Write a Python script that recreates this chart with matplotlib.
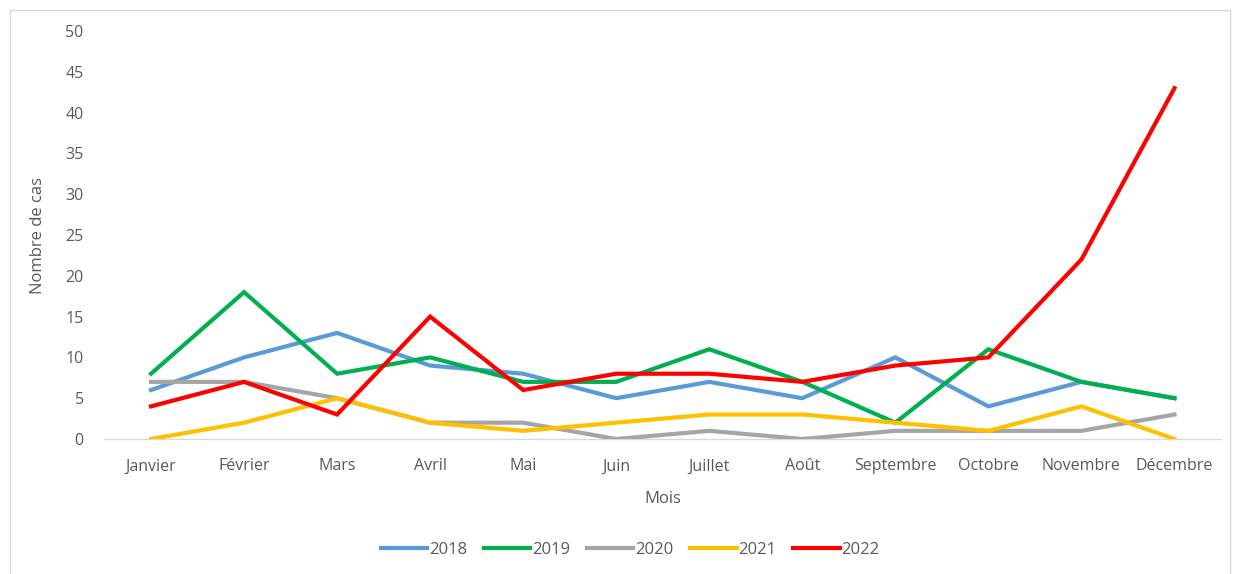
import matplotlib.pyplot as plt
from matplotlib.patches import Rectangle

plt.rcParams['font.family'] = ['Open Sans', 'DejaVu Sans']

mois = ['Janvier', 'Février', 'Mars', 'Avril', 'Mai', 'Juin', 'Juillet',
        'Août', 'Septembre', 'Octobre', 'Novembre', 'Décembre']
annees = ['2018', '2019', '2020', '2021', '2022']
cas_2018 = [6, 10, 13, 9, 8, 5, 7, 5, 10, 4, 7, 5]
cas_2019 = [8, 18, 8, 10, 7, 7, 11, 7, 2, 11, 7, 5]
cas_2020 = [7, 7, 5, 2, 2, 0, 1, 0, 1, 1, 1, 3]
cas_2021 = [0, 2, 5, 2, 1, 2, 3, 3, 2, 1, 4, 0]
cas_2022 = [4, 7, 3, 15, 6, 8, 8, 7, 9, 10, 22, 43]
couleurs = ['#5b9bd5', '#00b050', '#a5a5a5', '#ffc000', '#ff0000']

txt = '#595959'

fig = plt.figure(figsize=(12.33, 5.74), dpi=100)
# light frame around the chart
fig.patches.append(Rectangle((10 / 1233, -0.01), 1220 / 1233, 1 - 10 / 574 + 0.01,
                             transform=fig.transFigure, fill=False,
                             edgecolor='#d9d9d9', linewidth=1))

ax = fig.add_axes([104.5 / 1233, 1 - 439 / 574, (1221 - 104.5) / 1233, (439 - 31) / 574])

x = range(len(mois))
for serie, nom, c in zip([cas_2018, cas_2019, cas_2020, cas_2021, cas_2022], annees, couleurs):
    ax.plot(x, serie, color=c, linewidth=3, label=nom, solid_joinstyle='miter')

ax.set_xlim(-0.5, 11.5)
ax.set_ylim(0, 50)
ax.set_yticks(range(0, 51, 5))
ax.set_xticks(list(x))
ax.set_xticklabels(mois)
for s in ['top', 'right', 'left']:
    ax.spines[s].set_visible(False)
ax.spines['bottom'].set_color('#d9d9d9')
ax.spines['bottom'].set_linewidth(1)
ax.spines['bottom'].set_zorder(0)
ax.tick_params(axis='both', length=0, colors=txt, labelsize=11.5)
ax.tick_params(axis='y', pad=15)
ax.tick_params(axis='x', pad=14)

ax.set_xlabel('Mois', color=txt, fontsize=12, labelpad=12)
ax.set_ylabel('Nombre de cas', color=txt, fontsize=12, labelpad=14)

leg = fig.legend(loc='center', bbox_to_anchor=(630 / 1233, 1 - 550 / 574), ncol=5,
                 frameon=False, fontsize=12, handlelength=2.8, handletextpad=0.1,
                 columnspacing=1.0)
for t in leg.get_texts():
    t.set_color(txt)

fig.savefig('out.png', dpi=100)
